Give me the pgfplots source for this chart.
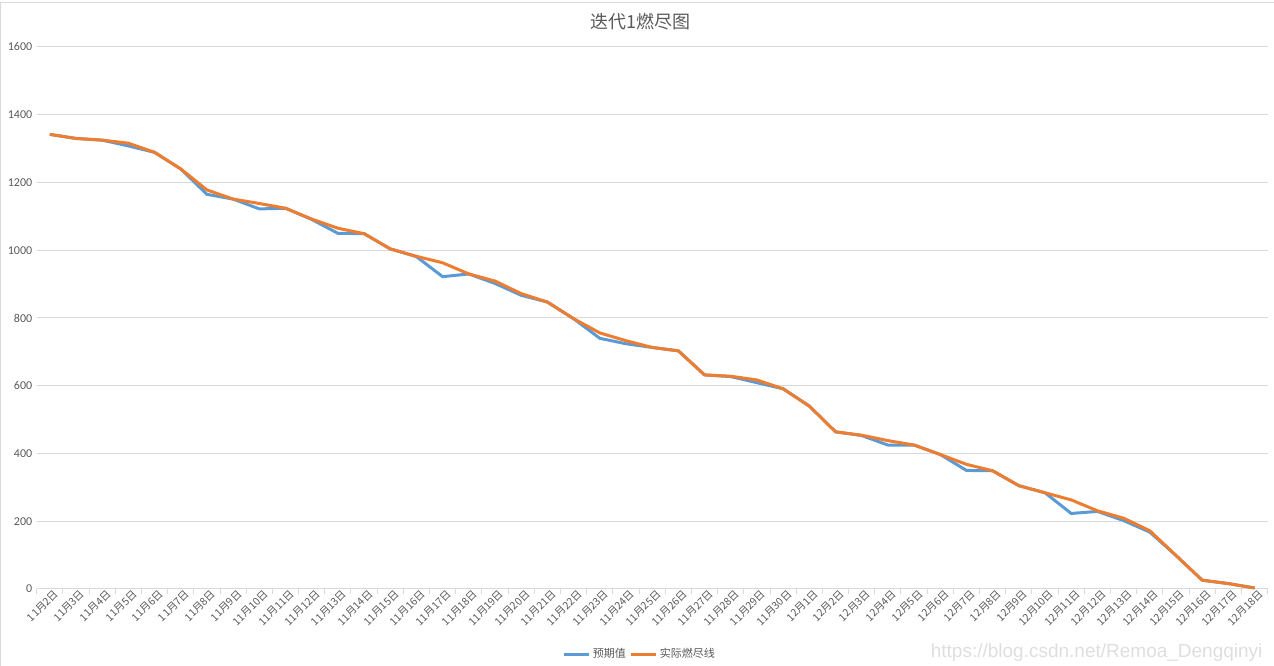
\documentclass[border=0pt]{standalone}
\usepackage{pgfplots}
\usepackage{pgfplotstable}
\pgfplotsset{compat=1.18}
\usepackage{fontspec}
\setmainfont{Carlito}
\newfontfamily\cjk{Noto Sans CJK SC}
\newfontfamily\wm{Liberation Sans}
\definecolor{gridgray}{HTML}{D9D9D9}
\definecolor{txtgray}{HTML}{595959}
\definecolor{exblue}{HTML}{5B9BD5}
\definecolor{exorange}{HTML}{ED7D31}

\pgfplotstableread{
x blue orange
0 1342 1342
1 1330 1330
2 1325 1325
3 1308 1316
4 1289 1289
5 1240 1240
6 1165 1178
7 1151 1151
8 1122 1138
9 1124 1124
10 1091 1092
11 1050 1065
12 1049 1049
13 1004 1004
14 981 982
15 922 963
16 930 930
17 902 909
18 867 872
19 847 847
20 798 798
21 740 756
22 724 733
23 713 713
24 703 703
25 632 632
26 627 628
27 609 617
28 591 591
29 540 540
30 464 464
31 453 454
32 425 438
33 425 425
34 397 397
35 350 368
36 349 349
37 305 305
38 284 284
39 223 263
40 229 231
41 202 209
42 168 172
43 99 99
44 26 26
45 16 16
46 3 3
}\burndown

\begin{document}
\begin{tikzpicture}
\useasboundingbox (0,0) rectangle (1274pt,666pt);
\begin{axis}[
  at={(36.7pt,77pt)}, anchor=south west,
  scale only axis,
  width=1231pt, height=542pt,
  xmin=-0.5, xmax=46.5,
  ymin=0, ymax=1600,
  ytick={0,200,...,1600},
  xtick={0,...,46},
  xticklabels={11月2日,11月3日,11月4日,11月5日,11月6日,11月7日,11月8日,11月9日,11月10日,11月11日,11月12日,11月13日,11月14日,11月15日,11月16日,11月17日,11月18日,11月19日,11月20日,11月21日,11月22日,11月23日,11月24日,11月25日,11月26日,11月27日,11月28日,11月29日,11月30日,12月1日,12月2日,12月3日,12月4日,12月5日,12月6日,12月7日,12月8日,12月9日,12月10日,12月11日,12月12日,12月13日,12月14日,12月15日,12月16日,12月17日,12月18日},
  minor xtick={-0.5,0.5,...,46.5},
  major tick length=0pt,
  minor tick length=5pt,
  tick align=outside,
  minor tick style={draw=gridgray, line width=1pt},
  axis x line*=bottom,
  axis y line*=left,
  x axis line style={draw=gridgray, line width=1pt, -},
  y axis line style={draw=none},
  ymajorgrids,
  major grid style={draw=gridgray, line width=1pt},
  /pgf/number format/assume math mode=true,
  /pgf/number format/1000 sep={},
  yticklabel style={font=\fontsize{12}{12}\selectfont, text=txtgray, xshift=-1pt},
  xticklabel style={font=\cjk\fontsize{10.5}{10.5}\selectfont, text=txtgray, rotate=45, anchor=north east, xshift=6pt, yshift=1pt},
  legend style={draw=none, fill=none, at={(0.49,-0.12)}, anchor=center,
    font=\cjk\fontsize{11}{11}\selectfont, text=txtgray, legend columns=2,
    /tikz/every even column/.append style={column sep=2pt}},
  legend image code/.code={\draw[#1, line width=3pt] (0pt,0pt) -- (25pt,0pt);},
  clip=false,
]
\addplot[exblue, line width=3pt] table[x=x, y=blue] {\burndown};
\addlegendentry{预期值}
\addplot[exorange, line width=3pt] table[x=x, y=orange] {\burndown};
\addlegendentry{实际燃尽线}
\end{axis}
\node[font=\cjk\fontsize{18}{18}\selectfont, text=txtgray] at (640pt,644pt) {迭代1燃尽图};
\node[font=\wm\fontsize{19}{19}\selectfont, text=black!13, anchor=east] at (1266pt,13pt) {https://blog.csdn.net/Remoa\_Dengqinyi};
\draw[gridgray, line width=1pt] (0.5pt,0pt) -- (0.5pt,663pt) -- (1274pt,663pt);
\end{tikzpicture}
\end{document}
